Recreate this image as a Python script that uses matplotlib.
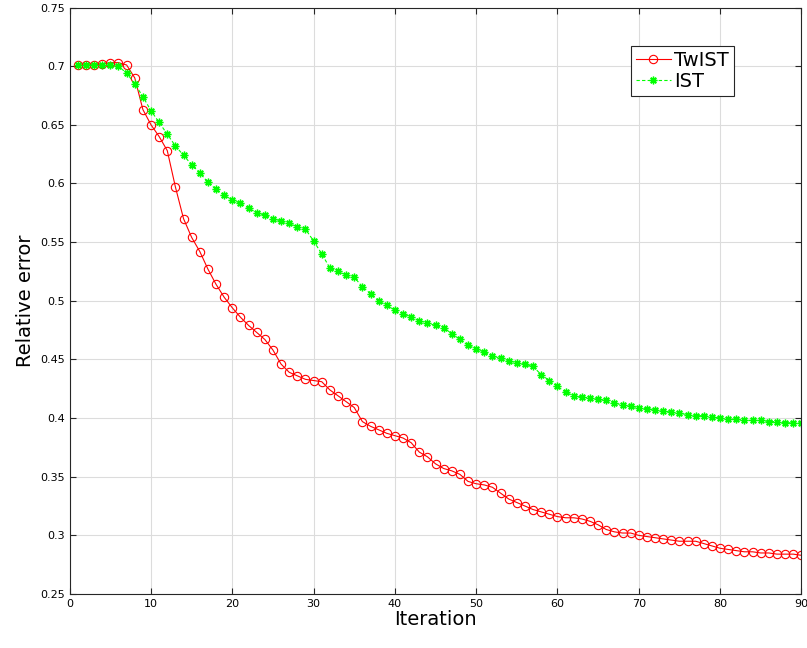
import numpy as np
import matplotlib
matplotlib.use('Agg')
import matplotlib.pyplot as plt
from matplotlib.ticker import FormatStrFormatter

iters = np.arange(1, 91)

twist = [0.701, 0.701, 0.701, 0.702, 0.703, 0.703, 0.701, 0.690, 0.663, 0.650,
         0.640, 0.628, 0.597, 0.570, 0.554, 0.542, 0.527, 0.514, 0.503, 0.494,
         0.486, 0.479, 0.473, 0.467, 0.458, 0.446, 0.439, 0.436, 0.433, 0.432,
         0.431, 0.424, 0.419, 0.414, 0.409, 0.397, 0.393, 0.390, 0.387, 0.385,
         0.383, 0.379, 0.371, 0.367, 0.361, 0.357, 0.355, 0.352, 0.346, 0.344,
         0.343, 0.341, 0.336, 0.331, 0.328, 0.325, 0.322, 0.320, 0.318, 0.316,
         0.315, 0.315, 0.314, 0.312, 0.309, 0.305, 0.303, 0.302, 0.302, 0.300,
         0.299, 0.298, 0.297, 0.296, 0.295, 0.295, 0.295, 0.293, 0.291, 0.289,
         0.288, 0.287, 0.286, 0.286, 0.285, 0.285, 0.284, 0.284, 0.284, 0.283]

ist = [0.701, 0.701, 0.701, 0.701, 0.701, 0.700, 0.694, 0.685, 0.674, 0.662,
       0.652, 0.642, 0.632, 0.624, 0.616, 0.609, 0.601, 0.595, 0.590, 0.586,
       0.583, 0.579, 0.575, 0.573, 0.570, 0.568, 0.566, 0.563, 0.561, 0.551,
       0.540, 0.528, 0.525, 0.522, 0.520, 0.512, 0.506, 0.500, 0.496, 0.492,
       0.489, 0.486, 0.483, 0.481, 0.479, 0.477, 0.472, 0.467, 0.462, 0.459,
       0.456, 0.453, 0.451, 0.449, 0.447, 0.446, 0.444, 0.437, 0.432, 0.427,
       0.422, 0.419, 0.418, 0.417, 0.416, 0.415, 0.413, 0.411, 0.410, 0.409,
       0.408, 0.407, 0.406, 0.405, 0.404, 0.403, 0.402, 0.402, 0.401, 0.400,
       0.399, 0.399, 0.398, 0.398, 0.398, 0.397, 0.397, 0.396, 0.396, 0.396]

fig = plt.figure(figsize=(8.07, 6.48), dpi=100)
ax = fig.add_axes([0.0864, 0.0833, 0.9066, 0.9051])

ax.plot(iters, twist, '-o', color='red', lw=0.8, ms=6, mfc='none', mew=0.8, label='TwIST')
ax.plot(iters, ist, '--', marker=(8, 2, 0), color=(0, 1, 0), lw=0.8, ms=5.5, mew=1.0,
        dashes=(3, 2), label='IST')

ax.set_xlim(0, 90)
ax.set_ylim(0.25, 0.75)
ax.set_xticks(np.arange(0, 91, 10))
ax.set_yticks(np.arange(0.25, 0.751, 0.05))
ax.yaxis.set_major_formatter(FormatStrFormatter('%g'))
ax.grid(True, color='#dcdcdc', lw=0.8)
ax.set_axisbelow(True)
ax.tick_params(direction='in', top=True, right=True, labelsize=8, length=4, color='#262626')
for s in ax.spines.values():
    s.set_color('#262626')
    s.set_linewidth(0.8)

ax.set_xlabel('Iteration', fontsize=14, labelpad=1)
ax.set_ylabel('Relative error', fontsize=14, labelpad=4)

leg = ax.legend(loc='upper right', bbox_to_anchor=(0.908, 0.934), borderaxespad=0,
                fontsize=14, fancybox=False, framealpha=1, edgecolor='#262626',
                handlelength=1.8, handletextpad=0.2, borderpad=0.25, labelspacing=0.1)
leg.get_frame().set_linewidth(0.8)

fig.savefig('out.png', dpi=100)
